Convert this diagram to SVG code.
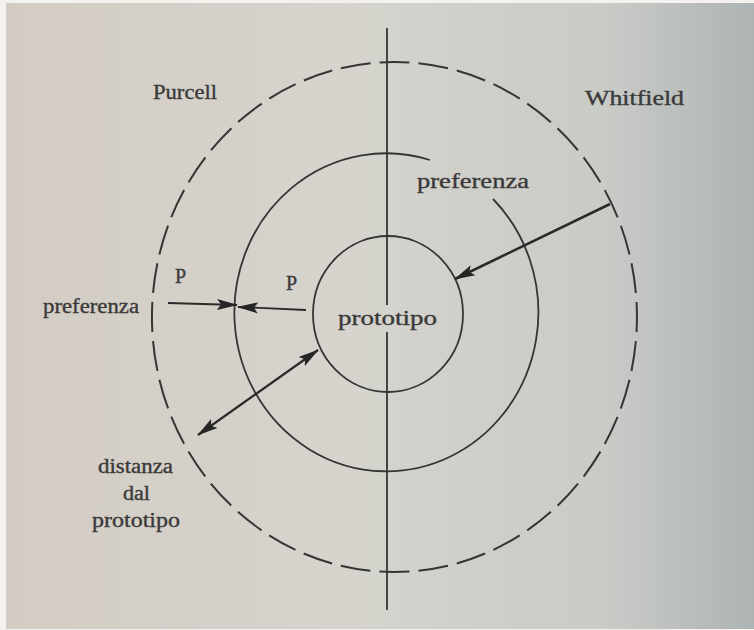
<svg xmlns="http://www.w3.org/2000/svg" width="754" height="630" viewBox="0 0 754 630">
  <defs>
    <linearGradient id="paper" x1="0" y1="0" x2="1" y2="0">
      <stop offset="0" stop-color="#d3ccc4"/>
      <stop offset="0.45" stop-color="#d6d4cd"/>
      <stop offset="0.8" stop-color="#c9cbc7"/>
      <stop offset="1" stop-color="#aeb4b4"/>
    </linearGradient>
    <marker id="ah" markerUnits="userSpaceOnUse" markerWidth="22" markerHeight="12" refX="20" refY="6" orient="auto-start-reverse" viewBox="0 0 22 12">
      <path d="M0,0.5 L21,6 L0,11.5 L4,6 Z" fill="#262626"/>
    </marker>
    <style>
      .ln { fill: none; stroke: #353535; stroke-width: 1.8; }
      .dash { fill: none; stroke: #353535; stroke-width: 2; }
      .arr { fill: none; stroke: #2a2a2a; }
      .lbl { font-family: "Liberation Serif", "Times New Roman", serif; font-size: 20px; fill: #3a3a3a; stroke: #3a3a3a; stroke-width: 0.35; }
    </style>
  </defs>

  <rect x="0" y="0" width="754" height="630" fill="#f4f2ee"/>
  <rect x="6" y="3" width="748" height="626" fill="url(#paper)"/>

  <g id="axis">
    <line class="ln" x1="387" y1="28" x2="387" y2="305"/>
    <line class="ln" x1="387" y1="332" x2="387" y2="610"/>
  </g>

  <g id="outer-ellipse">
    <path class="dash" d="M394.5,62 A242.5,255 0 1,1 394.4,62 Z" pathLength="1560" stroke-dasharray="30 9" stroke-dashoffset="15"/>
  </g>

  <g id="middle-ellipse">
    <path class="ln" d="M493,199 A152,159 0 1,1 430,160"/>
  </g>

  <g id="inner-circle">
    <ellipse class="ln" cx="388" cy="314" rx="75" ry="78"/>
  </g>

  <g id="connectors">
    <line class="arr" stroke-width="1.8" x1="168" y1="303" x2="237" y2="305" marker-end="url(#ah)"/>
    <line class="arr" stroke-width="1.8" x1="306" y1="310" x2="238" y2="307" marker-end="url(#ah)"/>
    <line class="arr" stroke-width="2.6" x1="610" y1="204" x2="455" y2="279" marker-end="url(#ah)"/>
    <line class="arr" stroke-width="2.2" x1="198" y1="435" x2="318" y2="350" marker-start="url(#ah)" marker-end="url(#ah)"/>
  </g>

  <g id="labels">
    <text class="lbl" x="153" y="99" textLength="64" lengthAdjust="spacingAndGlyphs">Purcell</text>
    <text class="lbl" x="585" y="105" textLength="99" lengthAdjust="spacingAndGlyphs">Whitfield</text>
    <text class="lbl" x="417" y="188" textLength="112" lengthAdjust="spacingAndGlyphs">preferenza</text>
    <text class="lbl" x="43" y="313" textLength="96" lengthAdjust="spacingAndGlyphs">preferenza</text>
    <text class="lbl" x="175" y="283">P</text>
    <text class="lbl" x="286" y="290">P</text>
    <text class="lbl" x="338" y="325" textLength="99" lengthAdjust="spacingAndGlyphs">prototipo</text>
    <text class="lbl" x="98" y="473" textLength="75" lengthAdjust="spacingAndGlyphs">distanza</text>
    <text class="lbl" x="123" y="500" textLength="27" lengthAdjust="spacingAndGlyphs">dal</text>
    <text class="lbl" x="92" y="527" textLength="88" lengthAdjust="spacingAndGlyphs">prototipo</text>
  </g>
</svg>
